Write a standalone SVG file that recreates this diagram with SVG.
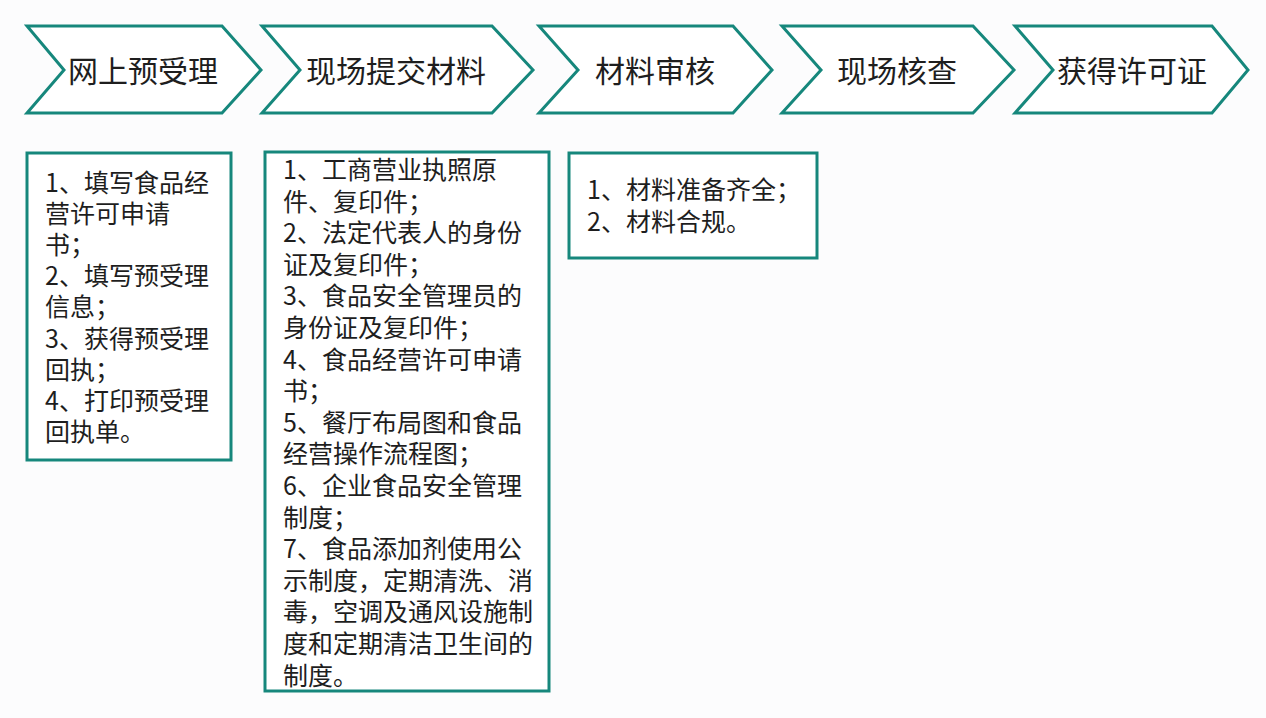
<svg xmlns="http://www.w3.org/2000/svg" width="1266" height="718" viewBox="0 0 1266 718">
<style>
.chev{fill:#ffffff;stroke:#16877c;stroke-width:3;stroke-linejoin:miter}
.box{fill:#ffffff;stroke:#16877c;stroke-width:3}
.lbl{font-family:"Noto Sans CJK SC","Microsoft YaHei",sans-serif;font-size:30px;fill:#1e1e1e;text-anchor:middle}
.txt{font-family:"Noto Sans CJK SC","Microsoft YaHei",sans-serif;font-size:25px;fill:#1e1e1e}
</style>
<rect width="1266" height="718" fill="#fcfcfd"/>
<g id="step1"><polygon class="chev" points="27,26 222,26 261,70 222,113 27,113 64,70"/><text class="lbl" x="143" y="82">网上预受理</text></g>
<g id="step2"><polygon class="chev" points="262,26 492,26 533,70 492,113 262,113 300,70"/><text class="lbl" x="396" y="82">现场提交材料</text></g>
<g id="step3"><polygon class="chev" points="539,26 733,26 772,70 733,113 539,113 578,70"/><text class="lbl" x="655" y="82">材料审核</text></g>
<g id="step4"><polygon class="chev" points="782,26 973,26 1014,70 973,113 782,113 821,70"/><text class="lbl" x="897" y="82">现场核查</text></g>
<g id="step5"><polygon class="chev" points="1015,26 1212,26 1248,70 1212,113 1015,113 1053,70"/><text class="lbl" x="1132" y="82">获得许可证</text></g>
<g id="connectors"/>
<g id="box1"><rect class="box" x="27" y="153" width="204" height="307"/>
<text class="txt" x="45" y="192"><tspan x="45" dy="0">1、填写食品经</tspan><tspan x="45" dy="31.1">营许可申请</tspan><tspan x="45" dy="31.1">书；</tspan><tspan x="45" dy="31.1">2、填写预受理</tspan><tspan x="45" dy="31.1">信息；</tspan><tspan x="45" dy="31.1">3、获得预受理</tspan><tspan x="45" dy="31.1">回执；</tspan><tspan x="45" dy="31.1">4、打印预受理</tspan><tspan x="45" dy="31.1">回执单。</tspan></text>
</g>
<g id="box2"><rect class="box" x="265" y="152" width="284" height="539"/>
<text class="txt" x="283" y="179"><tspan x="283" dy="0">1、工商营业执照原</tspan><tspan x="283" dy="31.6">件、复印件；</tspan><tspan x="283" dy="31.6">2、法定代表人的身份</tspan><tspan x="283" dy="31.6">证及复印件；</tspan><tspan x="283" dy="31.6">3、食品安全管理员的</tspan><tspan x="283" dy="31.6">身份证及复印件；</tspan><tspan x="283" dy="31.6">4、食品经营许可申请</tspan><tspan x="283" dy="31.6">书；</tspan><tspan x="283" dy="31.6">5、餐厅布局图和食品</tspan><tspan x="283" dy="31.6">经营操作流程图；</tspan><tspan x="283" dy="31.6">6、企业食品安全管理</tspan><tspan x="283" dy="31.6">制度；</tspan><tspan x="283" dy="31.6">7、食品添加剂使用公</tspan><tspan x="283" dy="31.6">示制度，定期清洗、消</tspan><tspan x="283" dy="31.6">毒，空调及通风设施制</tspan><tspan x="283" dy="31.6">度和定期清洁卫生间的</tspan><tspan x="283" dy="31.6">制度。</tspan></text>
</g>
<g id="box3"><rect class="box" x="569" y="153" width="248" height="105"/>
<text class="txt" x="587" y="199"><tspan x="587" dy="0">1、材料准备齐全；</tspan><tspan x="587" dy="32">2、材料合规。</tspan></text>
</g>
</svg>
